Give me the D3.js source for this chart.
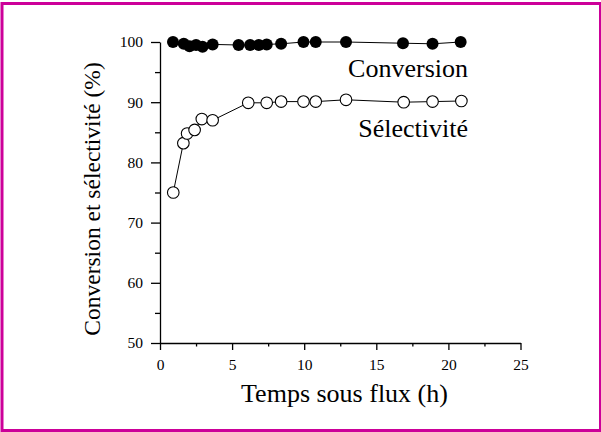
<!DOCTYPE html>
<html>
<head>
<meta charset="utf-8">
<script src="https://cdn.jsdelivr.net/npm/d3@7"></script>
<style>
  html, body { margin: 0; padding: 0; background: #fff; }
  svg { display: block; }
</style>
</head>
<body>
<svg id="chart" width="601" height="432"></svg>
<script>
// ---- data ----
const convTime = [0.9, 1.65, 2.05, 2.5, 2.95, 3.65, 5.45, 6.25, 6.85, 7.4, 8.4, 9.95, 10.8, 12.9, 16.85, 18.9, 20.85];
const convValue = [100, 99.7, 99.3, 99.5, 99.2, 99.6, 99.5, 99.5, 99.5, 99.6, 99.7, 100, 100, 100, 99.8, 99.7, 100];
const selTime = [0.92, 1.62, 1.88, 2.4, 2.9, 3.65, 6.12, 7.4, 8.4, 9.95, 10.8, 12.9, 16.9, 18.9, 20.9];
const selValue = [75.0, 83.2, 84.8, 85.4, 87.2, 87.0, 89.9, 89.9, 90.1, 90.1, 90.1, 90.4, 90.0, 90.1, 90.2];
const xTicks = [0, 5, 10, 15, 20, 25];
const xMinor = [2.5, 7.5, 12.5, 17.5, 22.5];
const yTicks = [50, 60, 70, 80, 90, 100];
const yMinor = [55, 65, 75, 85, 95];
const seriesNames = ["Conversion", "Sélectivité"];
const xTitle = "Temps sous flux (h)";
const yTitle = "Conversion et sélectivité (%)";

const svg = d3.select("#chart");
const FONT = "'Liberation Serif', 'Noto Serif', 'DejaVu Serif', Tinos, FreeSerif, 'Times New Roman', serif";

// frame
svg.append("rect")
  .attr("x", 2).attr("y", 3.5).attr("width", 598.5).attr("height", 427)
  .attr("fill", "none").attr("stroke", "#CC0099").attr("stroke-width", 3);

const x = d3.scaleLinear().domain([0, 25]).range([160, 520.5]);
const y = d3.scaleLinear().domain([50, 100]).range([343, 42]);

// x axis
const gx = svg.append("g").attr("transform", `translate(0,${y(50)})`);
gx.call(d3.axisBottom(x).tickValues(xTicks).tickSize(7).tickPadding(9).tickSizeOuter(0));
gx.append("g").call(d3.axisBottom(x).tickValues(xMinor).tickSize(3.5).tickFormat("").tickSizeOuter(0))
  .select(".domain").remove();
// y axis
const gy = svg.append("g").attr("transform", `translate(${x(0)},0)`);
gy.call(d3.axisLeft(y).tickValues(yTicks).tickSize(9).tickPadding(8).tickSizeOuter(0));
gy.append("g").call(d3.axisLeft(y).tickValues(yMinor).tickSize(5).tickFormat("").tickSizeOuter(0))
  .select(".domain").remove();

svg.selectAll("g").attr("font-family", FONT);
svg.selectAll(".domain").attr("stroke", "#000").attr("stroke-width", 1.3);
svg.selectAll(".tick line").attr("stroke", "#000").attr("stroke-width", 1.3);
svg.selectAll(".tick text").attr("font-family", FONT).attr("font-size", 15.5).attr("fill", "#000");

// lines
const line = d3.line().x(d => x(d[0])).y(d => y(d[1]));
const conv = convTime.map((t, i) => [t, convValue[i]]);
const sel = selTime.map((t, i) => [t, selValue[i]]);

svg.append("path").datum(conv).attr("d", line).attr("fill", "none").attr("stroke", "#000").attr("stroke-width", 1);
svg.append("path").datum(sel).attr("d", line).attr("fill", "none").attr("stroke", "#000").attr("stroke-width", 1);

svg.append("g").selectAll("circle").data(conv).join("circle")
  .attr("cx", d => x(d[0])).attr("cy", d => y(d[1])).attr("r", 6)
  .attr("fill", "#000");
svg.append("g").selectAll("circle").data(sel).join("circle")
  .attr("cx", d => x(d[0])).attr("cy", d => y(d[1])).attr("r", 5.8)
  .attr("fill", "#fff").attr("stroke", "#000").attr("stroke-width", 1.1);

// labels
svg.append("text").attr("x", 468).attr("y", 77).attr("text-anchor", "end")
  .attr("font-family", FONT).attr("font-size", 26).text(seriesNames[0]);
svg.append("text").attr("x", 468).attr("y", 137).attr("text-anchor", "end")
  .attr("font-family", FONT).attr("font-size", 26).text(seriesNames[1]);

svg.append("text").attr("x", 344.5).attr("y", 402).attr("text-anchor", "middle")
  .attr("font-family", FONT).attr("font-size", 26).text(xTitle);
svg.append("text").attr("transform", "translate(100,199) rotate(-90)").attr("text-anchor", "middle")
  .attr("font-family", FONT).attr("font-size", 23.5).text(yTitle);
</script>
</body>
</html>
